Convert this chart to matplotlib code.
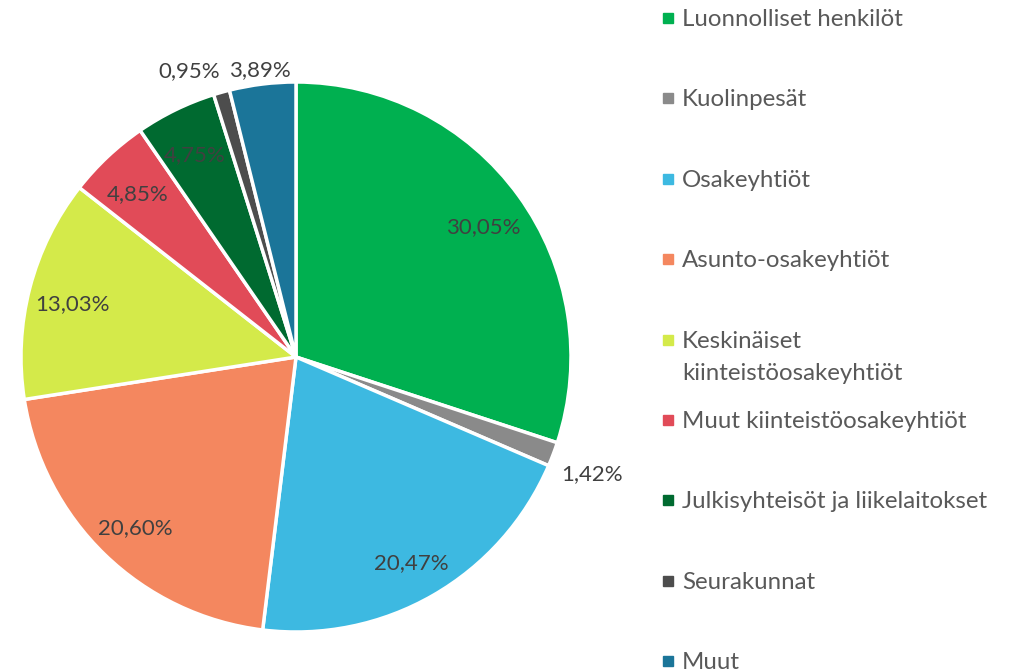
import matplotlib.pyplot as plt
import numpy as np
from matplotlib.lines import Line2D

plt.rcParams["font.family"] = ["Lato", "DejaVu Sans"]

labels = [
    "Luonnolliset henkilöt",
    "Kuolinpesät",
    "Osakeyhtiöt",
    "Asunto-osakeyhtiöt",
    "Keskinäiset\nkiinteistöosakeyhtiöt",
    "Muut kiinteistöosakeyhtiöt",
    "Julkisyhteisöt ja liikelaitokset",
    "Seurakunnat",
    "Muut",
]
shares = [30.05, 1.42, 20.47, 20.60, 13.03, 4.85, 4.75, 0.95, 3.89]
colors = ["#00B050", "#8A8A8A", "#3DB9E1", "#F4875F", "#D4EA4A",
          "#E14B58", "#006A30", "#4D4D4D", "#1B7599"]
# labels placed outside the pie (small slices)
outside = {1: 1.15, 7: 1.10, 8: 1.07}

W, H = 1009, 671
fig = plt.figure(figsize=(W / 100, H / 100), dpi=100)
# pie centre ~ (296, 357) px, radius ~ 275 px
cx, cy, R = 296, 357, 275
ax = fig.add_axes([(cx - R) / W, (H - cy - R) / H, 2 * R / W, 2 * R / H])

wedges, _ = ax.pie(
    shares, colors=colors, startangle=90, counterclock=False,
    wedgeprops=dict(edgecolor="white", linewidth=2.5),
)
ax.set_xlim(-1, 1)
ax.set_ylim(-1, 1)
ax.set_aspect("equal")

for i, w in enumerate(wedges):
    ang = np.deg2rad((w.theta1 + w.theta2) / 2)
    r = outside.get(i, 0.84)
    dx = -0.09 if i == 7 else 0.0
    ax.text(r * np.cos(ang) + dx, r * np.sin(ang) - 0.02, f"{shares[i]:.2f}%".replace(".", ","),
            ha="center", va="center", fontsize=16, color="#404040", clip_on=False)

# legend, drawn as evenly spaced rows
y0, step = 18, 80.4
for i, (lab, col) in enumerate(zip(labels, colors)):
    y = y0 + i * step
    fig.add_artist(Line2D([668 / W], [1 - y / H], marker="s", markersize=6.5,
                          color=col, transform=fig.transFigure))
    for j, line in enumerate(lab.split("\n")):
        fig.text(682 / W, 1 - (y + 8 + j * 32) / H, line, ha="left", va="baseline",
                 fontsize=17.3, color="#595959")

fig.savefig("out.png", dpi=100)
